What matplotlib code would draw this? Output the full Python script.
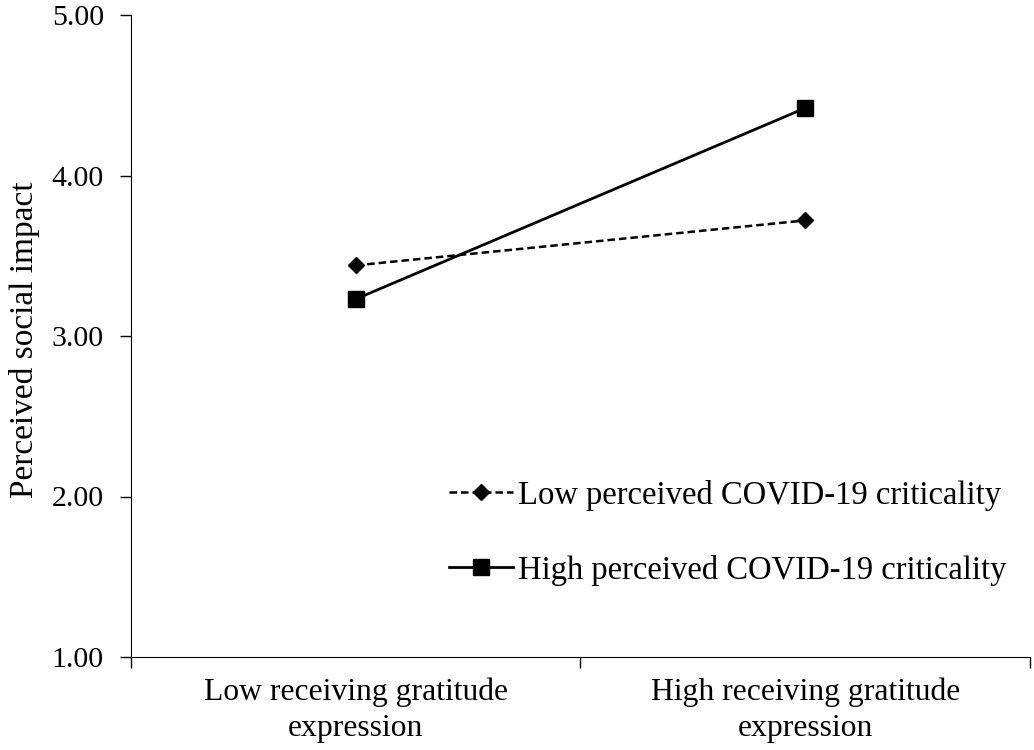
import matplotlib
matplotlib.use("Agg")
import matplotlib.pyplot as plt
from matplotlib.ticker import FixedLocator

categories = ["Low receiving gratitude\nexpression", "High receiving gratitude\nexpression"]
low_crit = [3.44, 3.72]
high_crit = [3.23, 4.42]
series_labels = ["Low perceived COVID-19 criticality", "High perceived COVID-19 criticality"]
y_ticks = [1.0, 2.0, 3.0, 4.0, 5.0]

plt.rcParams['font.family'] = ['Liberation Serif', 'DejaVu Serif']
plt.rcParams['font.size'] = 23.5

fig = plt.figure(figsize=(10.34, 7.5), dpi=100)
ax = fig.add_axes([0.1267, 0.124, 0.8693, 0.856])

x = list(range(len(categories)))
ax.plot(x, low_crit, color='black', linestyle=(0, (3, 1.6)), linewidth=1.8,
        marker='D', markersize=8, label=series_labels[0])
ax.plot(x, high_crit, color='black', linestyle='-', linewidth=2,
        marker='s', markersize=11, label=series_labels[1])

ax.set_xlim(-0.5, 1.5)
ax.set_ylim(1.0, 5.0)
ax.set_yticks(y_ticks)
ax.set_yticklabels([f"{v:.2f}" for v in y_ticks], fontsize=21.5)
ax.set_xticks(x)
ax.set_xticklabels(categories, fontsize=22.8, linespacing=1.32)
ax.xaxis.set_minor_locator(FixedLocator([-0.5, 0.5, 1.5]))
ax.tick_params(axis='x', which='major', length=0, pad=15)
ax.tick_params(axis='x', which='minor', length=8, width=1, direction='out')
ax.tick_params(axis='y', length=8, width=1, direction='out', pad=11.5)
ax.spines['top'].set_visible(False)
ax.spines['right'].set_visible(False)
ax.set_ylabel("Perceived social impact", fontsize=24)
ax.yaxis.set_label_coords(-0.1015, 0.494)

ax.legend(loc='upper left', bbox_to_anchor=(0.354, 0.276), frameon=False,
          borderpad=0, borderaxespad=0,
          handlelength=1.96, handletextpad=0.15, labelspacing=1.34, fontsize=23.5)

fig.savefig("out.png", dpi=100)
